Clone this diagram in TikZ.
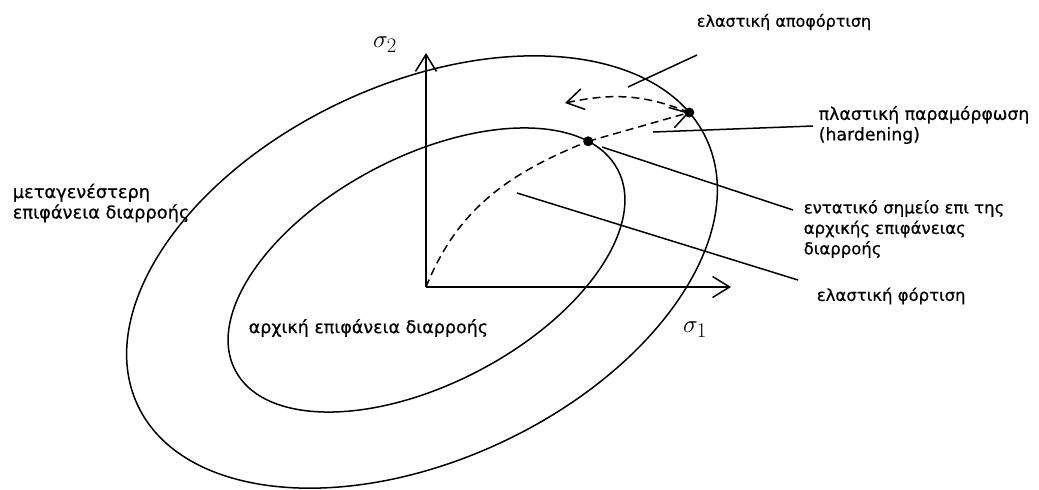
\documentclass[tikz,border=0pt]{standalone}
\usepackage{fontspec}
\setmainfont{DejaVu Sans}[RawFeature={embolden=0.6}]
\usetikzlibrary{arrows.meta}
\tikzset{
  lbl/.style={align=left,inner sep=0pt,anchor=west,font=\fontsize{#1}{20.5}\selectfont},
  lbl/.default=17,
  sig/.style={inner sep=0pt,font=\fontsize{31}{31}\selectfont},
  dot/.style={circle,fill,inner sep=0pt,minimum size=10pt},
  barb/.style={-{Straight Barb[length=17pt,width=21pt]}},
  dsh/.style={dash pattern=on 8pt off 5pt}
}
\begin{document}
\begin{tikzpicture}[x=1pt,y=1pt,line width=1.5pt]
\useasboundingbox[fill=white] (0,0) rectangle (1039,-490);
\foreach \cx/\cy/\r/\a/\b/\t/\n in {426.5/-270/27.7/216/113.5/20/p0,
                                  422/-272/25.1/314/188/9.5/p1}
  {\begin{scope}[shift={(\cx,\cy)},rotate=\r]
     \draw (0,0) ellipse [x radius=\a,y radius=\b];
     \coordinate (\n) at ({\a*cos(\t)},{\b*sin(\t)});
   \end{scope}}
\coordinate (o) at (426,-287);
\coordinate (y) at (426,-53);
\coordinate (x) at (731,-287);
\draw[barb] (o) -- (y);
\draw[barb] (o) -- (x);
\node[sig] (s2) at (385,-45) {$\sigma_2$};
\node[sig] (s1) at (695,-330) {$\sigma_1$};
\draw[dsh] (o) to[out=68,in=202] (p0);
\draw[dsh,barb] (p0) -- (p1);
\coordinate (ul) at (565,-103);
\draw[dsh,barb] (p1) to[out=158,in=12] (ul);
\node[dot] (d0) at (p0) {};
\node[dot] (d1) at (p1) {};
\node[lbl=16,anchor=center] (t1) at (784,-22) {ελαστική αποφόρτιση};
\node[lbl=17.3] (t2) at (818,-125) {πλαστική παραμόρφωση\\(hardening)};
\node[lbl=16.5] (t3) at (803,-229) {εντατικό σημείο επι της\\αρχικής επιφάνειας\\διαρροής};
\node[lbl=16.5] (t4) at (816,-296) {ελαστική φόρτιση};
\node[lbl=17.8] (t5) at (12,-203) {μεταγενέστερη\\επιφάνεια διαρροής};
\node[lbl=17.5] (t6) at (248,-328) {αρχική επιφάνεια διαρροής};
\foreach \n/\xa/\ya/\xb/\yb in {1/628/87/697/55, 2/653/132/813/126,
                                3/602/147/793/210, 4/517/193/798/280}
  {\coordinate (a\n) at (\xa,-\ya);
   \coordinate (b\n) at (\xb,-\yb);
   \draw (a\n) -- (b\n);}
\end{tikzpicture}
\end{document}
